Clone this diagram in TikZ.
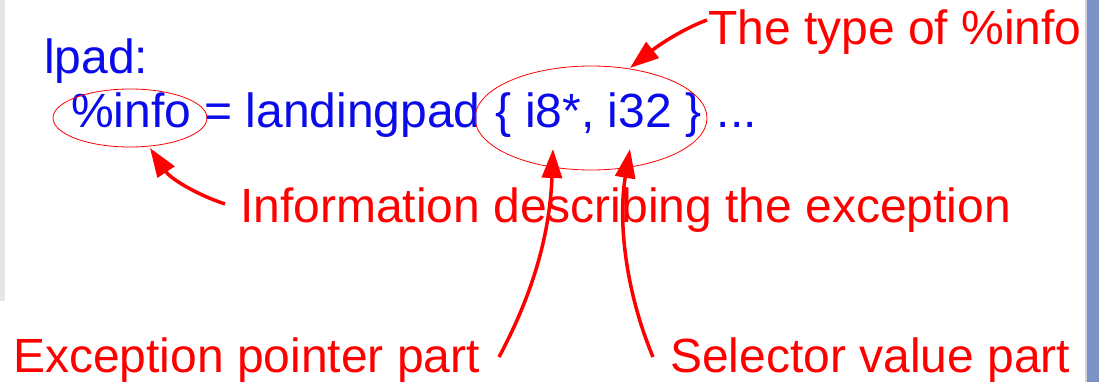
\documentclass[tikz,border=0pt]{standalone}
\usepackage{fontspec}
\setmainfont{Liberation Sans}
\usetikzlibrary{shapes.geometric,arrows.meta}
\definecolor{codeblue}{RGB}{10,10,235}
\definecolor{labelred}{RGB}{255,0,0}
\definecolor{stripgray}{RGB}{230,230,230}
\definecolor{stripblue}{RGB}{124,145,198}
\definecolor{stripedge}{RGB}{205,210,222}
\tikzset{
  big/.style={inner sep=0pt, outer sep=0pt, anchor=base west, font=\fontsize{48}{57}\selectfont},
  code/.style={big, text=codeblue},
  lbl/.style={big, text=labelred},
  ring/.style={draw=labelred, line width=0.8pt, ellipse, inner sep=0pt, outer sep=0pt},
  pointer/.style={draw=labelred, line width=3.5pt, -{Triangle[length=29pt,width=20pt]}},
}
\begin{document}
\begin{tikzpicture}[x=1pt,y=-1pt]
\useasboundingbox (0,0) rectangle (1099,382);
% side strips
\fill[stripgray] (0,0) rectangle (4.5,301);
\fill[stripedge] (1084.5,0) rectangle (1086.5,382);
\fill[stripblue] (1086.5,0) rectangle (1099,382);
% code text
\node[code] (lpad) at (44,74) {lpad:};
\node[code] (instr) at (71,128) {\%info = landingpad\hspace{2pt} \{ i8*, i32 \}\hspace{2pt} ...};
% ellipses
\node[ring, minimum width=154pt, minimum height=58pt] (e1) at (130,118) {};
\node[ring, minimum width=232pt, minimum height=104pt] (e2) at (591,118) {};
% labels
\node[lbl] (ltype) at (708,45) {The type of \%info};
\node[lbl] (linfo) at (240,222) {Information describing the exception};
\node[lbl] (lptr) at (13,372) {Exception pointer part};
\node[lbl] (lsel) at (670,372) {Selector value part};
% connector ends
\coordinate (s1) at (707,20);
\coordinate (t1) at (630,68);
\coordinate (s2) at (225,204);
\coordinate (t2) at (150,148);
\coordinate (s3) at (499,357);
\coordinate (t3) at (553,149);
\coordinate (s4) at (653,357);
\coordinate (t4) at (630,149);
% arrows
\draw[pointer] (s1) .. controls (680,30) and (655,48) .. (t1);
\draw[pointer] (s2) .. controls (195,194) and (170,178) .. (t2);
\draw[pointer] (s3) .. controls (535,290) and (550,230) .. (t3);
\draw[pointer] (s4) .. controls (625,290) and (618,220) .. (t4);
\end{tikzpicture}
\end{document}
